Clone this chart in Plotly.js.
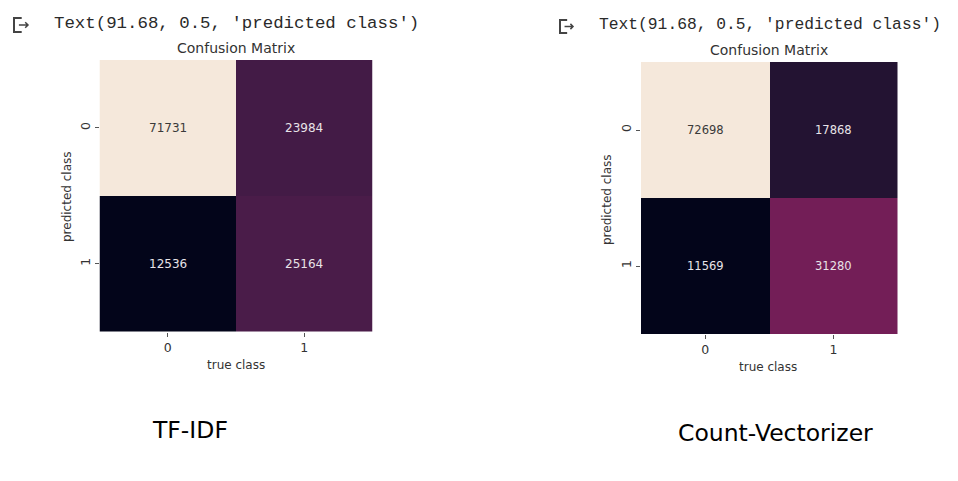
<!DOCTYPE html>
<html><head><meta charset="utf-8">
<script src="https://cdn.plot.ly/plotly-3.0.1.min.js"></script>
<style>html,body{margin:0;padding:0;background:#fff;}#chart{width:958px;height:481px;}</style>
</head><body><div id="chart"></div>
<script>
const classes = [0, 1];
const xTickLabels = ['0', '1'];
const yTickLabels = ['0', '1'];
// rows = predicted class, columns = true class
const tfidfMatrix = [[71731, 23984], [12536, 25164]];
const countMatrix = [[72698, 17868], [11569, 31280]];
const outputLine = "Text(91.68, 0.5, 'predicted class')";
const plotTitle = 'Confusion Matrix';
const xLabel = 'true class';
const yLabel = 'predicted class';
const captions = ['TF-IDF', 'Count-Vectorizer'];

const rocket = [
  [0.0, '#03051A'], [0.1, '#221331'], [0.2, '#451C47'], [0.3, '#6A1F56'],
  [0.4, '#921C5B'], [0.5, '#B91657'], [0.6, '#DD2C45'], [0.7, '#F06043'],
  [0.8, '#F5936A'], [0.9, '#F6BE9E'], [1.0, '#F5E8DB']
];

function mm(m){const f=m.flat();return [Math.min(...f),Math.max(...f)];}
const [tmin,tmax]=mm(tfidfMatrix), [cmin,cmax]=mm(countMatrix);

const traces = [
  {type:'heatmap', z:tfidfMatrix, x:classes, y:classes, colorscale:rocket, zmin:tmin, zmax:tmax,
   showscale:false, xaxis:'x', yaxis:'y', hoverinfo:'skip'},
  {type:'heatmap', z:countMatrix, x:classes, y:classes, colorscale:rocket, zmin:cmin, zmax:cmax,
   showscale:false, xaxis:'x2', yaxis:'y2', hoverinfo:'skip'}
];

const ann = [];
function cellText(m, lo, hi, xa, ya, fs){
  m.forEach((row,i)=>row.forEach((v,j)=>{
    const t=(v-lo)/(hi-lo);
    ann.push({x:classes[j], y:classes[i], xref:xa, yref:ya, text:String(v), showarrow:false,
      font:{family:'DejaVu Sans', size:fs, color: t>0.6 ? '#3a3a3a' : '#e8e3e8'}});
  }));
}
cellText(tfidfMatrix, tmin, tmax, 'x', 'y', 12);
cellText(countMatrix, cmin, cmax, 'x2', 'y2', 11.5);

function P(px){return px/958;} function Q(py){return 1-py/481;}
const mono = {family:'Liberation Mono, Courier New, monospace', color:'#2a2a2a'};
ann.push({xref:'paper', yref:'paper', x:P(52), y:Q(23), xanchor:'left', yanchor:'middle', showarrow:false,
  text:outputLine, font:Object.assign({size:17.4}, mono)});
ann.push({xref:'paper', yref:'paper', x:P(597), y:Q(25), xanchor:'left', yanchor:'middle', showarrow:false,
  text:outputLine, font:Object.assign({size:16.3}, mono)});
ann.push({xref:'paper', yref:'paper', x:P(236), y:Q(48), xanchor:'center', yanchor:'middle', showarrow:false,
  text:plotTitle, font:{family:'DejaVu Sans', size:14, color:'#333'}});
ann.push({xref:'paper', yref:'paper', x:P(769), y:Q(50), xanchor:'center', yanchor:'middle', showarrow:false,
  text:plotTitle, font:{family:'DejaVu Sans', size:14, color:'#333'}});
ann.push({xref:'paper', yref:'paper', x:P(236), y:Q(365), xanchor:'center', yanchor:'middle', showarrow:false,
  text:xLabel, font:{family:'DejaVu Sans', size:12, color:'#333'}});
ann.push({xref:'paper', yref:'paper', x:P(768), y:Q(367), xanchor:'center', yanchor:'middle', showarrow:false,
  text:xLabel, font:{family:'DejaVu Sans', size:12, color:'#333'}});
ann.push({xref:'paper', yref:'paper', x:P(67), y:Q(197), xanchor:'center', yanchor:'middle', showarrow:false, textangle:-90,
  text:yLabel, font:{family:'DejaVu Sans', size:12, color:'#333'}});
ann.push({xref:'paper', yref:'paper', x:P(607), y:Q(200), xanchor:'center', yanchor:'middle', showarrow:false, textangle:-90,
  text:yLabel, font:{family:'DejaVu Sans', size:12, color:'#333'}});
ann.push({xref:'paper', yref:'paper', x:P(190), y:Q(430), xanchor:'center', yanchor:'middle', showarrow:false,
  text:captions[0], font:{family:'DejaVu Sans', size:23.5, color:'#000'}});
ann.push({xref:'paper', yref:'paper', x:P(775), y:Q(433), xanchor:'center', yanchor:'middle', showarrow:false,
  text:captions[1], font:{family:'DejaVu Sans', size:23.5, color:'#000'}});

function axX(dom, anchor){return {domain:dom, anchor:anchor, range:[-0.5,1.5], tickvals:classes, ticktext:xTickLabels,
  ticks:'outside', ticklen:4, tickcolor:'#555', showgrid:false, zeroline:false, showline:false,
  tickfont:{family:'DejaVu Sans', size:12.5, color:'#333'}, fixedrange:true};}
function axY(dom, anchor){return {domain:dom, anchor:anchor, range:[1.5,-0.5], tickvals:classes, ticktext:yTickLabels,
  ticks:'outside', ticklen:4, tickcolor:'#555', showgrid:false, zeroline:false, showline:false, tickangle:-90,
  tickfont:{family:'DejaVu Sans', size:12.5, color:'#333'}, fixedrange:true};}

// run-cell icons
function icon(x0,y0,s){
  const p = `M ${P(x0+0.55*s)} ${Q(y0)} L ${P(x0)} ${Q(y0)} L ${P(x0)} ${Q(y0+s)} L ${P(x0+0.55*s)} ${Q(y0+s)}`;
  const a = `M ${P(x0+0.35*s)} ${Q(y0+0.5*s)} L ${P(x0+s)} ${Q(y0+0.5*s)} M ${P(x0+0.8*s)} ${Q(y0+0.3*s)} L ${P(x0+s)} ${Q(y0+0.5*s)} L ${P(x0+0.8*s)} ${Q(y0+0.7*s)}`;
  return [{type:'path', xref:'paper', yref:'paper', path:p, line:{color:'#444', width:2}},
          {type:'path', xref:'paper', yref:'paper', path:a, line:{color:'#444', width:1.5}}];
}

const layout = {
  width:958, height:481, margin:{l:0,r:0,t:0,b:0}, paper_bgcolor:'#fff', plot_bgcolor:'#fff', showlegend:false,
  xaxis: axX([P(99.5), P(372.5)], 'y'),
  yaxis: axY([Q(331.5), Q(60)], 'x'),
  xaxis2: axX([P(641), P(897.5)], 'y2'),
  yaxis2: axY([Q(334), Q(62)], 'x2'),
  annotations: ann,
  shapes: [...icon(14,18,14), ...icon(560,20,13)]
};
Plotly.newPlot('chart', traces, layout, {displayModeBar:false, staticPlot:true});
</script></body></html>
